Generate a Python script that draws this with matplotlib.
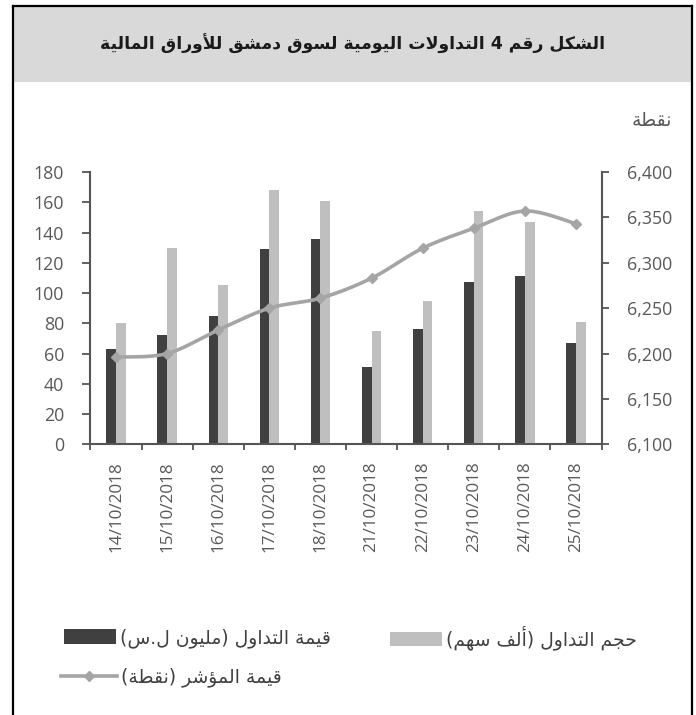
import numpy as np
import matplotlib
matplotlib.use('Agg')
import matplotlib.pyplot as plt
from matplotlib.patches import Rectangle, Patch
from matplotlib.lines import Line2D

# ---------------- data ----------------
dates = ['14/10/2018', '15/10/2018', '16/10/2018', '17/10/2018', '18/10/2018',
         '21/10/2018', '22/10/2018', '23/10/2018', '24/10/2018', '25/10/2018']
trade_value = [63, 72, 85, 129, 136, 51, 76, 107, 111, 67]        # million SYP
trade_volume = [80, 130, 105, 168, 161, 75, 95, 154, 147, 81]     # thousand shares
index_value = [6196, 6200, 6226, 6250, 6261, 6283, 6316, 6338, 6357, 6343]
left_ticks = [0, 20, 40, 60, 80, 100, 120, 140, 160, 180]
right_ticks = [6100, 6150, 6200, 6250, 6300, 6350, 6400]
title = 'الشكل رقم 4 التداولات اليومية لسوق دمشق للأوراق المالية'
unit_label = 'نقطة'
label_value = 'قيمة التداول (مليون ل.س)'
label_volume = 'حجم التداول (ألف سهم)'
label_index = 'قيمة المؤشر (نقطة)'

# ---------------- Arabic shaping (presentation forms + visual order) ----------------
FORMS = {
    'ء': (0xFE80,), 'آ': (0xFE81, 0xFE82), 'أ': (0xFE83, 0xFE84), 'ؤ': (0xFE85, 0xFE86),
    'إ': (0xFE87, 0xFE88), 'ئ': (0xFE89, 0xFE8A, 0xFE8B, 0xFE8C), 'ا': (0xFE8D, 0xFE8E),
    'ب': (0xFE8F, 0xFE90, 0xFE91, 0xFE92), 'ة': (0xFE93, 0xFE94),
    'ت': (0xFE95, 0xFE96, 0xFE97, 0xFE98), 'ث': (0xFE99, 0xFE9A, 0xFE9B, 0xFE9C),
    'ج': (0xFE9D, 0xFE9E, 0xFE9F, 0xFEA0), 'ح': (0xFEA1, 0xFEA2, 0xFEA3, 0xFEA4),
    'خ': (0xFEA5, 0xFEA6, 0xFEA7, 0xFEA8), 'د': (0xFEA9, 0xFEAA), 'ذ': (0xFEAB, 0xFEAC),
    'ر': (0xFEAD, 0xFEAE), 'ز': (0xFEAF, 0xFEB0), 'س': (0xFEB1, 0xFEB2, 0xFEB3, 0xFEB4),
    'ش': (0xFEB5, 0xFEB6, 0xFEB7, 0xFEB8), 'ص': (0xFEB9, 0xFEBA, 0xFEBB, 0xFEBC),
    'ض': (0xFEBD, 0xFEBE, 0xFEBF, 0xFEC0), 'ط': (0xFEC1, 0xFEC2, 0xFEC3, 0xFEC4),
    'ظ': (0xFEC5, 0xFEC6, 0xFEC7, 0xFEC8), 'ع': (0xFEC9, 0xFECA, 0xFECB, 0xFECC),
    'غ': (0xFECD, 0xFECE, 0xFECF, 0xFED0), 'ف': (0xFED1, 0xFED2, 0xFED3, 0xFED4),
    'ق': (0xFED5, 0xFED6, 0xFED7, 0xFED8), 'ك': (0xFED9, 0xFEDA, 0xFEDB, 0xFEDC),
    'ل': (0xFEDD, 0xFEDE, 0xFEDF, 0xFEE0), 'م': (0xFEE1, 0xFEE2, 0xFEE3, 0xFEE4),
    'ن': (0xFEE5, 0xFEE6, 0xFEE7, 0xFEE8), 'ه': (0xFEE9, 0xFEEA, 0xFEEB, 0xFEEC),
    'و': (0xFEED, 0xFEEE), 'ى': (0xFEEF, 0xFEF0), 'ي': (0xFEF1, 0xFEF2, 0xFEF3, 0xFEF4),
}
LAM_ALEF = {'آ': (0xFEF5, 0xFEF6), 'أ': (0xFEF7, 0xFEF8), 'إ': (0xFEF9, 0xFEFA), 'ا': (0xFEFB, 0xFEFC)}


def ar(text):
    items = []
    i = 0
    while i < len(text):
        c = text[i]
        if c == 'ل' and i + 1 < len(text) and text[i + 1] in LAM_ALEF:
            items.append(LAM_ALEF[text[i + 1]])
            i += 2
        else:
            items.append(FORMS.get(c, c))
            i += 1
    out = []
    for k, it in enumerate(items):
        if isinstance(it, str):
            out.append(it)
            continue
        prev = items[k - 1] if k > 0 else None
        nxt = items[k + 1] if k + 1 < len(items) else None
        jp = (prev is not None and not isinstance(prev, str) and len(prev) == 4 and len(it) >= 2)
        jn = (len(it) == 4 and nxt is not None and not isinstance(nxt, str) and len(nxt) >= 2)
        if jp and jn:
            f = it[3]
        elif jp:
            f = it[1]
        elif jn:
            f = it[2]
        else:
            f = it[0]
        out.append(chr(f))
    s = ''.join(out)[::-1]
    s = s.translate(str.maketrans('()', ')('))
    # restore left-to-right order of digit runs
    res, run = [], ''
    for ch in s:
        if ch.isdigit():
            run += ch
        else:
            if run:
                res.append(run[::-1]); run = ''
            res.append(ch)
    if run:
        res.append(run[::-1])
    return ''.join(res)


def smooth(xs, ys, n=30):
    # Bezier smoothing through the points (spreadsheet-style smoothed line)
    xs = np.asarray(xs, float); ys = np.asarray(ys, float)
    px = np.concatenate([[xs[0]], xs, [xs[-1]]])
    py = np.concatenate([[ys[0]], ys, [ys[-1]]])
    outx, outy = [], []
    t = np.linspace(0, 1, n)
    for i in range(1, len(px) - 2):
        p0 = np.array([px[i], py[i]]); p3 = np.array([px[i + 1], py[i + 1]])
        c1 = p0 + (np.array([px[i + 1], py[i + 1]]) - np.array([px[i - 1], py[i - 1]])) / 6
        c2 = p3 - (np.array([px[i + 2], py[i + 2]]) - p0) / 6
        b = ((1 - t) ** 3)[:, None] * p0 + (3 * (1 - t) ** 2 * t)[:, None] * c1 + \
            (3 * (1 - t) * t ** 2)[:, None] * c2 + (t ** 3)[:, None] * p3
        outx.extend(b[:, 0]); outy.extend(b[:, 1])
    return outx, outy


# ---------------- figure ----------------
W, H = 696, 715
fig = plt.figure(figsize=(W / 100, H / 100), dpi=100)
plt.rcParams['font.family'] = ['Open Sans', 'DejaVu Sans']

def fx(x): return x / W
def fy(y): return 1 - y / H

# title band and frame
fig.patches.append(Rectangle((fx(13), fy(82)), fx(692) - fx(13), fy(6) - fy(82),
                             transform=fig.transFigure, facecolor='#d9d9d9', edgecolor='none', zorder=0))
for (x0, y0, x1, y1) in [(13, 6, 13, 715), (13, 6, 692, 6), (692, 6, 692, 715)]:
    fig.lines.append(Line2D([fx(x0), fx(x1)], [fy(y0), fy(y1)], transform=fig.transFigure,
                            color='black', linewidth=1.6, solid_capstyle='projecting'))

fig.text(fx(352.5), fy(44), ar(title), ha='center', va='center', fontsize=12.4,
         fontweight='bold', color='#1a1a1a', family='DejaVu Sans')
fig.text(fx(672), fy(120), ar(unit_label), ha='right', va='center', fontsize=13.5,
         color='#595959', family='DejaVu Sans')

ax = fig.add_axes([fx(90.5), fy(444.3), fx(601.5) - fx(90.5), fy(172) - fy(444.3)])
ax2 = ax.twinx()

x = np.arange(len(dates))
bw = 0.19
ax.bar(x - bw / 2, trade_value, width=bw, color='#404040', zorder=2)
ax.bar(x + bw / 2, trade_volume, width=bw, color='#bfbfbf', zorder=2)

sx, sy = smooth(x, index_value)
ax2.plot(sx, sy, color='#a5a5a5', linewidth=2.6, solid_capstyle='round', zorder=3)
ax2.plot(x, index_value, linestyle='none', marker='D', markersize=5, color='#a5a5a5', zorder=4)

ax.set_xlim(-0.5, len(dates) - 0.5)
ax.set_ylim(left_ticks[0], left_ticks[-1])
ax2.set_ylim(right_ticks[0], right_ticks[-1])
ax.set_yticks(left_ticks)
ax.set_yticklabels([str(v) for v in left_ticks])
ax2.set_yticks(right_ticks)
ax2.set_yticklabels([f'{v:,}' for v in right_ticks])
ax.set_xticks(x)
ax.set_xticklabels(dates, rotation=90)
ax.set_xticks(np.arange(-0.5, len(dates)), minor=True)

spc = '#555555'
for a in (ax, ax2):
    a.spines['top'].set_visible(False)
    for s in ('left', 'right', 'bottom'):
        a.spines[s].set_color(spc)
        a.spines[s].set_linewidth(1.5)
ax.spines['right'].set_visible(False)
ax2.spines['left'].set_visible(False)
ax2.spines['bottom'].set_visible(False)
ax.set_facecolor('none')

ax.tick_params(axis='y', direction='out', length=6, width=1.3, color=spc, pad=13,
               labelsize=12.8, labelcolor='#595959')
ax2.tick_params(axis='y', direction='out', length=5, width=1.3, color=spc, pad=13,
                labelsize=12.8, labelcolor='#595959')
ax.tick_params(axis='x', which='major', length=0, pad=12.5, labelsize=12.3, labelcolor='#595959')
ax.tick_params(axis='x', which='minor', direction='out', length=4.5, width=1.3, color=spc)

# ---------------- legend ----------------
fsz = 13.5
hl = 52 / (fsz * 100 / 72)
common = dict(loc='center left', frameon=False, borderpad=0, borderaxespad=0,
              handletextpad=0.2, labelcolor='#404040',
              prop={'family': 'DejaVu Sans', 'size': fsz}, bbox_transform=fig.transFigure)
fig.legend([Patch(facecolor='#404040')], [ar(label_value)], bbox_to_anchor=(fx(64), fy(638)),
           handlelength=hl, handleheight=0.8, **common)
fig.legend([Patch(facecolor='#bfbfbf')], [ar(label_volume)], bbox_to_anchor=(fx(390), fy(638)),
           handlelength=hl, handleheight=0.8, **common)
fig.legend([Line2D([], [], color='#a5a5a5', linewidth=2.6, marker='D', markersize=5)],
           [ar(label_index)], bbox_to_anchor=(fx(61), fy(677)), numpoints=1,
           handlelength=56 / (fsz * 100 / 72), **common)

fig.savefig('out.png', dpi=100)
